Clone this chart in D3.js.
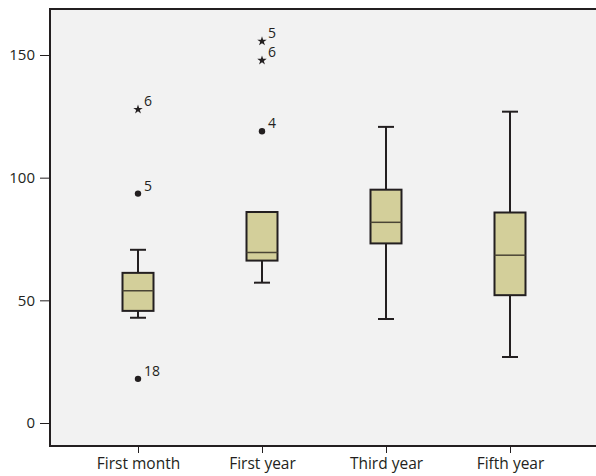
<!DOCTYPE html>
<html>
<head>
<meta charset="utf-8">
<script src="https://cdn.jsdelivr.net/npm/d3@7"></script>
<style>
  body { margin: 0; background: #fff; }
  text { font-family: "Open Sans", "Noto Sans", sans-serif; fill: #231f20; }
</style>
</head>
<body>
<script>
let width = 596;
let height = 476;

// box plot summary per group
var categories = ['First month', 'First year', 'Third year', 'Fifth year'];
var whiskerLow = [42.9, 57.2, 42.4, 26.9];
var q1 = [45.7, 66.2, 73.2, 52.1];
var median = [53.9, 69.5, 81.8, 68.4];
var q3 = [61.2, 86.0, 95.1, 85.8];
var whiskerHigh = [70.6, 86.0, 120.7, 126.9];

// outliers: group, value, case label, kind (dot = outlier, star = extreme)
var outlierGroup = ['First month', 'First month', 'First month', 'First year', 'First year', 'First year'];
var outlierValue = [127.8, 93.5, 18.0, 155.6, 147.8, 118.9];
var outlierLabel = ['6', '5', '18', '5', '6', '4'];
var outlierKind = ['star', 'dot', 'dot', 'star', 'star', 'dot'];

var yTicks = [0, 50, 100, 150];

var frame = { left: 50, top: 9, bottom: 446 };
var ink = '#231f20';

var svg = d3.select('body')
            .append('svg')
            .attr('width', width)
            .attr('height', height);

var x = d3.scalePoint().domain(categories).range([138, 510]);
var y = d3.scaleLinear().domain([0, 150]).range([423, 55]);

svg.append('rect')
   .attr('x', frame.left).attr('y', frame.top)
   .attr('width', width - frame.left + 20).attr('height', frame.bottom - frame.top)
   .attr('fill', '#f2f2f2').attr('stroke', ink).attr('stroke-width', 2);

// y axis ticks
var yAxis = svg.append('g').attr('transform', 'translate(' + (frame.left - 1) + ',0)')
   .call(d3.axisLeft(y).tickValues(yTicks).tickSize(9).tickPadding(5).tickFormat(d3.format('d')));
yAxis.select('.domain').remove();
yAxis.selectAll('line').attr('stroke', ink).attr('stroke-width', 1);
yAxis.selectAll('text').attr('font-size', 15).attr('fill', ink).attr('font-family', '"Open Sans", sans-serif');

// x axis ticks
var xAxis = svg.append('g').attr('transform', 'translate(0,' + (frame.bottom + 1) + ')')
   .call(d3.axisBottom(x).tickSize(6).tickPadding(5));
xAxis.select('.domain').remove();
xAxis.selectAll('line').attr('stroke', ink).attr('stroke-width', 1);
xAxis.selectAll('text').attr('font-size', 15.5).attr('fill', ink).attr('font-family', '"Open Sans", sans-serif');

var boxW = 31;
var capW = 16;

var groups = svg.selectAll('.box')
   .data(categories)
   .enter().append('g')
   .attr('class', 'box');

groups.append('line')
   .attr('x1', d => x(d)).attr('x2', d => x(d))
   .attr('y1', (d, i) => y(whiskerHigh[i])).attr('y2', (d, i) => y(q3[i]))
   .attr('stroke', ink).attr('stroke-width', 2);

groups.append('line')
   .attr('x1', d => x(d)).attr('x2', d => x(d))
   .attr('y1', (d, i) => y(q1[i])).attr('y2', (d, i) => y(whiskerLow[i]))
   .attr('stroke', ink).attr('stroke-width', 2);

groups.append('line')
   .attr('x1', d => x(d) - capW / 2).attr('x2', d => x(d) + capW / 2)
   .attr('y1', (d, i) => y(whiskerHigh[i])).attr('y2', (d, i) => y(whiskerHigh[i]))
   .attr('stroke', ink).attr('stroke-width', 2);

groups.append('line')
   .attr('x1', d => x(d) - capW / 2).attr('x2', d => x(d) + capW / 2)
   .attr('y1', (d, i) => y(whiskerLow[i])).attr('y2', (d, i) => y(whiskerLow[i]))
   .attr('stroke', ink).attr('stroke-width', 2);

groups.append('rect')
   .attr('x', d => x(d) - boxW / 2)
   .attr('y', (d, i) => y(q3[i]))
   .attr('width', boxW)
   .attr('height', (d, i) => y(q1[i]) - y(q3[i]))
   .attr('fill', '#d3cf9a').attr('stroke', ink).attr('stroke-width', 2);

groups.append('line')
   .attr('x1', d => x(d) - boxW / 2).attr('x2', d => x(d) + boxW / 2)
   .attr('y1', (d, i) => y(median[i])).attr('y2', (d, i) => y(median[i]))
   .attr('stroke', '#4a4535').attr('stroke-width', 1.5);

// outliers
var star = d3.symbol().type(d3.symbolStar).size(28);
outlierValue.forEach(function(v, i) {
  var cx = x(outlierGroup[i]);
  var cy = y(v);
  if (outlierKind[i] === 'star') {
    svg.append('path').attr('d', star).attr('transform', 'translate(' + cx + ',' + cy + ')')
       .attr('fill', ink);
  } else {
    svg.append('circle').attr('cx', cx).attr('cy', cy).attr('r', 3.2).attr('fill', ink);
  }
  svg.append('text').attr('x', cx + 6).attr('y', cy - 3)
     .attr('font-size', 14).attr('fill', ink).text(outlierLabel[i]);
});
</script>
</body>
</html>
